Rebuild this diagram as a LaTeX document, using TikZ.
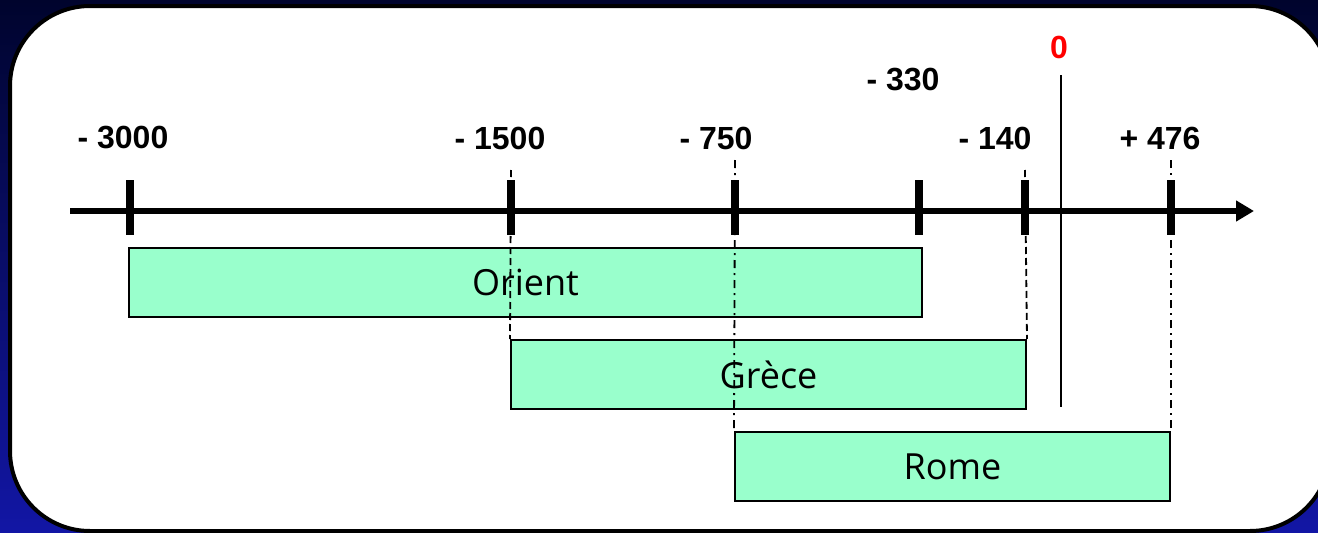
\documentclass[tikz,border=0pt]{standalone}
\usepackage{fontspec}
\setmainfont{Liberation Sans}
\newfontfamily\periodfont{Open Sans}
\usetikzlibrary{arrows.meta,calc}
\definecolor{navytop}{RGB}{0,4,45}
\definecolor{navybot}{RGB}{18,22,165}
\definecolor{periodfill}{RGB}{153,255,204}
\definecolor{zerored}{RGB}{255,0,0}
\tikzset{
  yearlabel/.style={inner sep=0pt, font=\fontsize{32}{34}\selectfont\bfseries},
  period/.style={draw=black, line width=2pt, fill=periodfill, inner sep=0pt,
    minimum height=69pt, font=\periodfont\fontsize{36}{40}\selectfont},
  tickmark/.style={line width=7.5pt},
  guide/.style={line width=1.8pt, dash pattern=on 7pt off 4pt},
  guidedot/.style={line width=1.8pt, dash pattern=on 8pt off 5pt on 2pt off 5pt},
}
\begin{document}
\begin{tikzpicture}[x=1pt,y=-1pt]
  \useasboundingbox (0,0) rectangle (1318,533);
  \clip (0,0) rectangle (1318,533);
  % backdrop and white panel
  \shade[top color=navytop, bottom color=navybot] (0,0) rectangle (1318,533);
  \draw[line width=4pt, fill=white, rounded corners=80pt] (10,6) rectangle (1330,531);

  % positions on the axis
  \coordinate (a3000) at (130,211);
  \coordinate (a1500) at (511,211);
  \coordinate (a750)  at (735,211);
  \coordinate (a330)  at (919,211);
  \coordinate (a140)  at (1025,211);
  \coordinate (a476)  at (1171,211);
  \coordinate (axisL) at (70,211);
  \coordinate (axisR) at (1254,211);

  % periods
  \node[period, minimum width=793pt] (orient) at (525.5,282.5) {Orient};
  \node[period, minimum width=515pt] (grece)  at (768.5,374.5) {Grèce};
  \node[period, minimum width=435pt] (rome)   at (952.5,466.5) {Rome};

  % axis with ticks
  \draw[line width=5.5pt, -{Triangle[length=18pt, width=20pt]}] (axisL) -- (axisR);
  \foreach \c in {a3000,a1500,a750,a330,a140,a476}
    \draw[tickmark] ($(\c)+(0,-31)$) -- ($(\c)+(0,24)$);

  % guide lines from the ticks down to the periods
  \coordinate (g1500) at (511,170);
  \coordinate (g750)  at (735,160);
  \coordinate (g140)  at (1025,170);
  \coordinate (g476)  at (1171,160);
  \draw[guide]    (g1500) -- (grece.north west);
  \draw[guide]    (g140)  -- (grece.north east);
  \draw[guidedot] (g750)  -- (rome.north west);
  \draw[guidedot] (g476)  -- (rome.north east);

  % year zero
  \node[yearlabel, text=zerored] (zero) at (1059,47) {0};
  \coordinate (zeroTop) at (1061,75);
  \coordinate (zeroBot) at (1061,407);
  \draw[line width=2pt] (zeroTop) -- (zeroBot);

  % year labels
  \node[yearlabel] (l3000) at (123,138) {- 3000};
  \node[yearlabel] (l1500) at (500,138) {- 1500};
  \node[yearlabel] (l750)  at (716,138) {- 750};
  \node[yearlabel] (l330)  at (903,80)  {- 330};
  \node[yearlabel] (l140)  at (995,138) {- 140};
  \node[yearlabel] (l476)  at (1160,138) {+ 476};
\end{tikzpicture}
\end{document}
